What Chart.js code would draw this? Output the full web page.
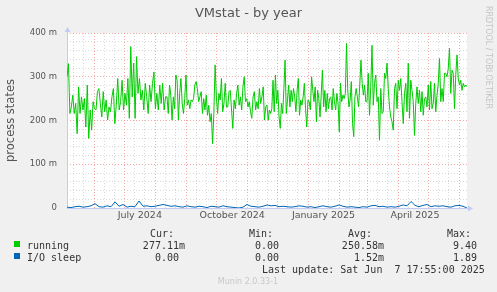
<!DOCTYPE html>
<html>
<head>
<meta charset="utf-8">
<script src="https://cdn.jsdelivr.net/npm/chart.js@4.4.0/dist/chart.umd.min.js"></script>
<style>
  html, body { margin: 0; padding: 0; background: #f0f0f0; }
  canvas { display: block; }
</style>
</head>
<body>
<canvas id="graph" width="497" height="292"></canvas>
<script>
// x axis = days since 1 May 2024, window of 400 days ending 7 Jun 2025
const xMin = 3.7;
const xMax = 403.7;
const monthStarts = [0, 31, 61, 92, 123, 153, 184, 214, 245, 276, 304, 335, 365, 396];
const monthLabels = ['July 2024', 'October 2024', 'January 2025', 'April 2025'];
const monthLabelDays = [76.5, 168.9, 260.2, 351.7];

// running (milli-processes), one array per 100 days of the window
const running1 = [300,330,216,231,258,216,239,170,277,216,254,224,250,185,281,159,224,178,243,227,224,266,273,239,208,266,220,247,201,231,220,254,273,193,235,296,224,243,292,224,262,235,296,205,369,254,331,205,346,262,296,247,269,224,285,254,216,281,243,285,311,227,262,224,281,239,285,224,254];
const running2 = [254,216,281,258,201,254,227,304,292,201,262,296,239,216,250,304,235,247,227,247,243,250,281,289,273,243,254,266,216,250,224,258,212,235,197,216,147,216,327,254,216,262,247,296,220,239,285,231,231,266,269,224,182,247,227,262,281,235,254,224,277,300,243,250,231,243,220,205,254,266,224,243,227,273,239,254,277,201,231];
const running3 = [235,201,224,216,227,292,220,304,239,269,208,182,239,216,273,338,216,247,281,231,269,243,273,254,220,269,296,212,247,235,254,285,227,185,247,243,224,300,269,243,277,197,269,250,208,258,315,231,269,220,262,227,250,254,224,273,243,224,262,239,174,285,243,258,250,262,376,269,231,247,289,193,163,254,273,254,231,281,338,285,258,281,243];
const running4 = [243,308,212,277,372,235,285,304,243,254,155,273,216,220,308,296,331,273,231,208,197,178,273,285,227,292,269,296,243,193,262,285,220,331,205,292,269,243,166,239,277,239,269,220,266,212,250,254,231,281,224,289,227,239,285,220,258,285,342,243,273,243,308,308,300,319,365,262,315,308,227,304,350,296,281,292,269,285,277,281,277];

// I/O sleep (milli-processes), one value every 4 days
const ioSleep = [2,1,3,4,2,3,5,10,3,2,5,3,14,4,8,2,4,3,16,4,5,3,4,6,8,6,4,5,3,2,5,3,2,4,3,1,4,3,2,5,3,2,1,0,2,8,4,3,2,4,7,5,6,3,4,3,2,3,5,4,2,3,1,3,5,3,2,4,7,4,2,3,2,1,3,2,5,6,3,4,2,3,2,4,7,5,15,6,3,6,8,3,5,4,5,3,2,5,6,4,0];

// legend statistics
const seriesNames = ['running', 'I/O sleep'];
const seriesColors = ['#00cc00', '#0066b3'];
const statCur = ['277.11m', '0.00 '];
const statMin = ['0.00 ', '0.00 '];
const statAvg = ['250.58m', '1.52m'];
const statMax = ['9.40 ', '1.89 '];

const RED = 'rgba(245,110,110,0.6)';
const GRAY = 'rgba(170,170,170,0.45)';

const runningPts = [];
[running1, running2, running3, running4].forEach((seg, s, all) => {
  const step = 100 / (s === all.length - 1 ? seg.length - 1 : seg.length);
  seg.forEach((v, j) => runningPts.push({ x: xMin + s * 100 + j * step, y: v }));
});
const ioPts = ioSleep.map((v, i) => ({ x: xMin + i * 4, y: v }));

// x ticks: month starts (red), every 10 days inside months (gray), labels (no line)
const xTicks = [];
monthStarts.forEach(m => {
  xTicks.push({ value: m, kind: 'major' });
  xTicks.push({ value: m + 10, kind: 'minor' });
  xTicks.push({ value: m + 20, kind: 'minor' });
});
monthLabelDays.forEach((d, i) => xTicks.push({ value: d, kind: 'label', text: monthLabels[i] }));
const xTickList = xTicks.filter(t => t.value >= xMin && t.value <= xMax).sort((a, b) => a.value - b.value);
const tickInfo = v => xTickList.find(t => Math.abs(t.value - v) < 1e-6);

const muninDeco = {
  id: 'muninDeco',
  beforeDraw(chart) {
    const { ctx, chartArea: a } = chart;
    ctx.save();
    ctx.fillStyle = '#f0f0f0';
    ctx.fillRect(0, 0, chart.width, chart.height);
    ctx.fillStyle = '#ffffff';
    ctx.fillRect(a.left, a.top, a.right - a.left, a.bottom - a.top);
    ctx.restore();
  },
  beforeDatasetsDraw(chart) {
    const { ctx, chartArea: a } = chart;
    ctx.save();
    ctx.strokeStyle = '#c5caf5';
    ctx.fillStyle = '#c5caf5';
    ctx.lineWidth = 1;
    ctx.beginPath();
    ctx.moveTo(a.left + 0.5, a.bottom + 0.5);
    ctx.lineTo(a.left + 0.5, a.top - 2);
    ctx.moveTo(a.left, a.bottom + 0.5);
    ctx.lineTo(a.right + 2, a.bottom + 0.5);
    ctx.stroke();
    // arrow heads
    ctx.beginPath();
    ctx.moveTo(a.left + 0.5, a.top - 6);
    ctx.lineTo(a.left - 2.5, a.top - 1);
    ctx.lineTo(a.left + 3.5, a.top - 1);
    ctx.fill();
    ctx.beginPath();
    ctx.moveTo(a.right + 6, a.bottom + 0.5);
    ctx.lineTo(a.right + 1, a.bottom - 2.5);
    ctx.lineTo(a.right + 1, a.bottom + 3.5);
    ctx.fill();
    ctx.restore();
  },
  afterDraw(chart) {
    const { ctx } = chart;
    ctx.save();
    ctx.fillStyle = '#555';
    ctx.font = '13px "DejaVu Sans"';
    ctx.textAlign = 'center';
    ctx.textBaseline = 'alphabetic';
    ctx.fillText('VMstat - by year', 248.5, 17.3);

    // vertical watermark
    ctx.save();
    ctx.translate(485.5, 6);
    ctx.rotate(Math.PI / 2);
    ctx.fillStyle = '#c4c4c4';
    ctx.font = '8px "DejaVu Sans"';
    ctx.textAlign = 'left';
    ctx.textBaseline = 'middle';
    ctx.fillText('RRDTOOL / TOBI OETIKER', 0, -3);
    ctx.restore();

    // legend
    ctx.font = '10px "DejaVu Sans Mono"';
    ctx.fillStyle = '#333';
    ctx.textAlign = 'left';
    ctx.fillText('Cur:', 150, 237);
    ctx.fillText('Min:', 249, 237);
    ctx.fillText('Avg:', 348, 237);
    ctx.fillText('Max:', 447, 237);
    seriesNames.forEach((name, i) => {
      const base = 249 + i * 12;
      ctx.fillStyle = seriesColors[i];
      ctx.fillRect(14, base - 8, 6, 6);
      ctx.fillStyle = '#333';
      ctx.textAlign = 'left';
      ctx.fillText(name, 27, base);
      ctx.textAlign = 'right';
      ctx.fillText(statCur[i], 185, base);
      ctx.fillText(statMin[i], 285, base);
      ctx.fillText(statAvg[i], 384, base);
      ctx.fillText(statMax[i], 483, base);
    });
    ctx.textAlign = 'left';
    ctx.fillText('Last update: Sat Jun  7 17:55:00 2025', 262, 273);

    ctx.fillStyle = '#c8c8c8';
    ctx.font = '8px "DejaVu Sans"';
    ctx.textAlign = 'center';
    ctx.fillText('Munin 2.0.33-1', 248, 284);
    ctx.restore();
  }
};

new Chart(document.getElementById('graph'), {
  type: 'line',
  data: {
    datasets: [
      { label: seriesNames[0], data: runningPts, borderColor: seriesColors[0], borderWidth: 1, pointRadius: 0, tension: 0, fill: false },
      { label: seriesNames[1], data: ioPts, borderColor: seriesColors[1], borderWidth: 1, pointRadius: 0, tension: 0, fill: false }
    ]
  },
  options: {
    responsive: false,
    animation: false,
    devicePixelRatio: 1,
    layout: { padding: { top: 33, right: 30, left: 0, bottom: 60 } },
    plugins: { legend: { display: false }, tooltip: { enabled: false }, title: { display: false } },
    scales: {
      x: {
        type: 'linear',
        min: xMin,
        max: xMax,
        afterBuildTicks: axis => { axis.ticks = xTickList.map(t => ({ value: t.value })); },
        afterFit: axis => { axis.height = 24; },
        ticks: {
          autoSkip: false,
          maxRotation: 0,
          minRotation: 0,
          padding: 2,
          color: '#555',
          font: { family: 'DejaVu Sans', size: 9.5 },
          callback: v => { const t = tickInfo(v); return t && t.kind === 'label' ? t.text : ''; }
        },
        grid: {
          drawTicks: false,
          lineWidth: 1,
          color: ctx => {
            const t = tickInfo(ctx.tick.value);
            if (!t || t.kind === 'label') return 'rgba(0,0,0,0)';
            return t.kind === 'major' ? RED : GRAY;
          }
        },
        border: { display: false, dash: [1, 2] }
      },
      y: {
        min: 0,
        max: 400,
        afterFit: axis => { axis.width = 67; },
        ticks: {
          stepSize: 20,
          autoSkip: false,
          padding: 10,
          color: '#555',
          font: { family: 'DejaVu Sans', size: 8.5 },
          callback: v => (v % 100 === 0 ? (v === 0 ? '0' : v + ' m') : '')
        },
        grid: {
          drawTicks: false,
          lineWidth: 1,
          color: ctx => (ctx.tick.value % 100 === 0 ? RED : GRAY)
        },
        border: { display: false, dash: [1, 2] },
        title: {
          display: true,
          text: 'process states',
          color: '#555',
          font: { family: 'DejaVu Sans', size: 11.5 },
          padding: { top: 4, bottom: 0 }
        }
      }
    }
  },
  plugins: [muninDeco]
});
</script>
</body>
</html>
